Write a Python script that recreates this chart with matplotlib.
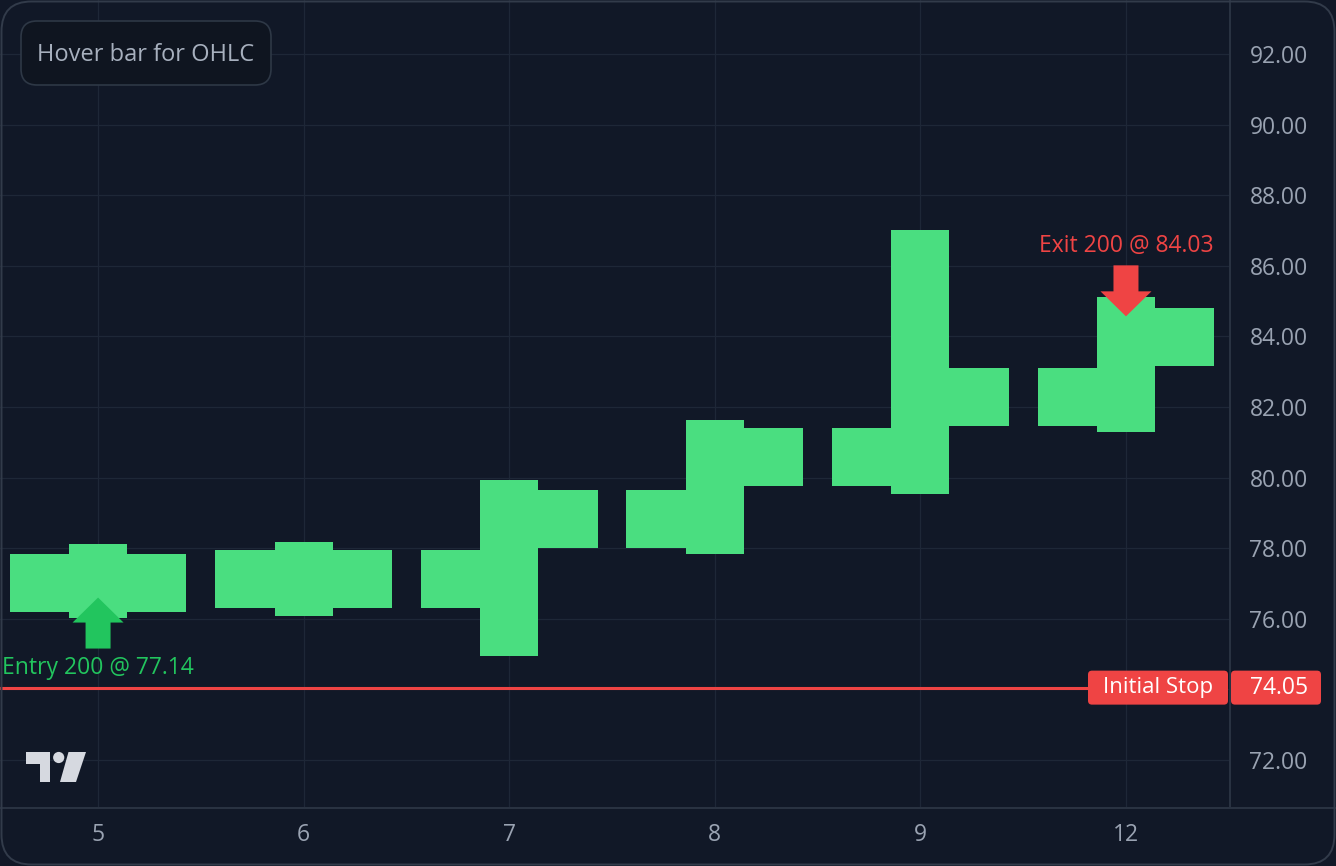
import matplotlib
matplotlib.use('Agg')
import matplotlib.pyplot as plt
from matplotlib.patches import FancyBboxPatch, Polygon, Circle
from matplotlib.lines import Line2D
from matplotlib.transforms import IdentityTransform

# OHLC data (daily bars)
dates = ['5', '6', '7', '8', '9', '12']
opens = [77.02, 77.13, 77.14, 78.83, 80.58, 82.29]
highs = [78.12, 78.18, 79.93, 81.63, 87.01, 85.11]
lows = [76.03, 76.08, 74.95, 77.84, 79.54, 81.30]
closes = [77.02, 77.13, 78.83, 80.58, 82.29, 83.99]
price_ticks = [72, 74, 76, 78, 80, 82, 84, 86, 88, 90, 92]

entry_bar, entry_qty, entry_price = 0, 200, 77.14
exit_bar, exit_qty, exit_price = 5, 200, 84.03
stop_price = 74.05

BG = '#111827'
GRID = '#1e2737'
SEP = '#2a3342'
TXT = '#9aa3b2'
GREEN = '#4ade80'
GREEN_DK = '#22c55e'
RED = '#ef4444'

plt.rcParams['font.family'] = ['Open Sans', 'DejaVu Sans']

W, H = 1336, 866
fig = plt.figure(figsize=(W / 100, H / 100), dpi=100, facecolor=BG)
ax = fig.add_axes([0, 58 / H, 1230 / W, 808 / H], facecolor=BG)

ax.set_xlim(-0.477, 5.506)
ax.set_ylim(70.64, 93.53)

xs = list(range(len(dates)))
bar_lw = 58 * 0.72  # 58 px thick strokes
tick_len = 0.43
ax.vlines(xs, lows, highs, colors=GREEN, lw=bar_lw, capstyle='butt', zorder=3)
ax.hlines(opens, [x - tick_len for x in xs], xs, colors=GREEN, lw=bar_lw,
          capstyle='butt', zorder=3)
ax.hlines(closes, xs, [x + tick_len for x in xs], colors=GREEN, lw=bar_lw,
          capstyle='butt', zorder=3)

# axes look (the 74.00 label sits under the stop price tag)
ax.set_xticks(xs)
ax.set_xticklabels(dates)
ax.set_yticks(price_ticks)
ax.set_yticklabels(['' if abs(p - stop_price) < 1 else f'{p:.2f}' for p in price_ticks])
ax.yaxis.tick_right()
ax.tick_params(axis='y', length=0, pad=14, labelsize=16.5, labelcolor=TXT)
ax.tick_params(axis='x', length=0, pad=11, labelsize=16.5, labelcolor=TXT)
ax.grid(True, color=GRID, lw=0.9, zorder=0)
ax.set_axisbelow(True)
for s in ['top', 'left', 'bottom']:
    ax.spines[s].set_visible(False)
ax.spines['right'].set_color(SEP)
ax.spines['right'].set_linewidth(1.4)

# bottom separator across whole width
fig.add_artist(Line2D([0, W], [58, 58], color=SEP, lw=1.4,
                      transform=IdentityTransform()))

# initial stop line + labels
ax.axhline(stop_price, xmin=0, xmax=1088 / 1230, color=RED, lw=2.2, zorder=4)
sy = ax.transData.transform((0, stop_price))[1]
x1 = ax.bbox.x1
fig.add_artist(FancyBboxPatch((x1 - 142, sy - 17), 140, 34,
                              boxstyle='round,pad=0,rounding_size=4',
                              fc=RED, ec='none', transform=IdentityTransform(), zorder=5))
fig.text((x1 - 72) / W, sy / H, 'Initial Stop', color='white', fontsize=16,
         ha='center', va='center', zorder=6)
fig.add_artist(FancyBboxPatch((x1 + 1, sy - 17), 90, 34,
                              boxstyle='round,pad=0,rounding_size=4',
                              fc=RED, ec='none', transform=IdentityTransform(), zorder=5))
fig.text((x1 + 49) / W, sy / H, f'{stop_price:.2f}', color='white', fontsize=16.5,
         ha='center', va='center', zorder=6)


def trade_arrow(bar, price, up, color, label):
    px, py = ax.transData.transform((bar, price))
    s = -1 if up else 1
    pts = [(0, 19), (25.5, 44), (12.5, 44), (12.5, 70),
           (-12.5, 70), (-12.5, 44), (-25.5, 44)]
    poly = [(px + dx, py + s * dy) for dx, dy in pts]
    fig.add_artist(Polygon(poly, closed=True, fc=color, ec='none',
                           transform=IdentityTransform(), zorder=5))
    fig.text(px / W, (py + s * 89) / H, label, color=color, fontsize=16.5,
             ha='center', va='center', zorder=6)


trade_arrow(entry_bar, entry_price, True, GREEN_DK,
            f'Entry {entry_qty} @ {entry_price:.2f}')
trade_arrow(exit_bar, exit_price, False, RED,
            f'Exit {exit_qty} @ {exit_price:.2f}')

# hover hint box
fig.add_artist(FancyBboxPatch((21, H - 85), 250, 64,
                              boxstyle='round,pad=0,rounding_size=16',
                              fc='#0f1520', ec='#2e3846', lw=1.2,
                              transform=IdentityTransform(), zorder=5))
fig.text(146 / W, (H - 55) / H, 'Hover bar for OHLC', color='#a7b0be',
         fontsize=17, ha='center', va='center', zorder=6)

# TradingView logo
LOGO = '#d6d9e0'
t_shape = [(26, 752), (50, 752), (50, 782), (39.5, 782), (39.5, 763.5), (26, 763.5)]
slash = [(68.5, 752), (86, 752), (76, 782), (60, 782)]
for shp in (t_shape, slash):
    fig.add_artist(Polygon([(x, H - y) for x, y in shp], fc=LOGO, ec='none',
                           transform=IdentityTransform(), zorder=5))
fig.add_artist(Circle((58.7, H - 757.5), 5.6, fc=LOGO, ec='none',
                      transform=IdentityTransform(), zorder=5))

# outer rounded frame
fig.add_artist(FancyBboxPatch((1.5, 1.5), W - 3, H - 3,
                              boxstyle='round,pad=0,rounding_size=30',
                              fc='none', ec='#323b4a', lw=1.4,
                              transform=IdentityTransform(), zorder=7))

fig.savefig('out.png', dpi=100, facecolor=BG)
